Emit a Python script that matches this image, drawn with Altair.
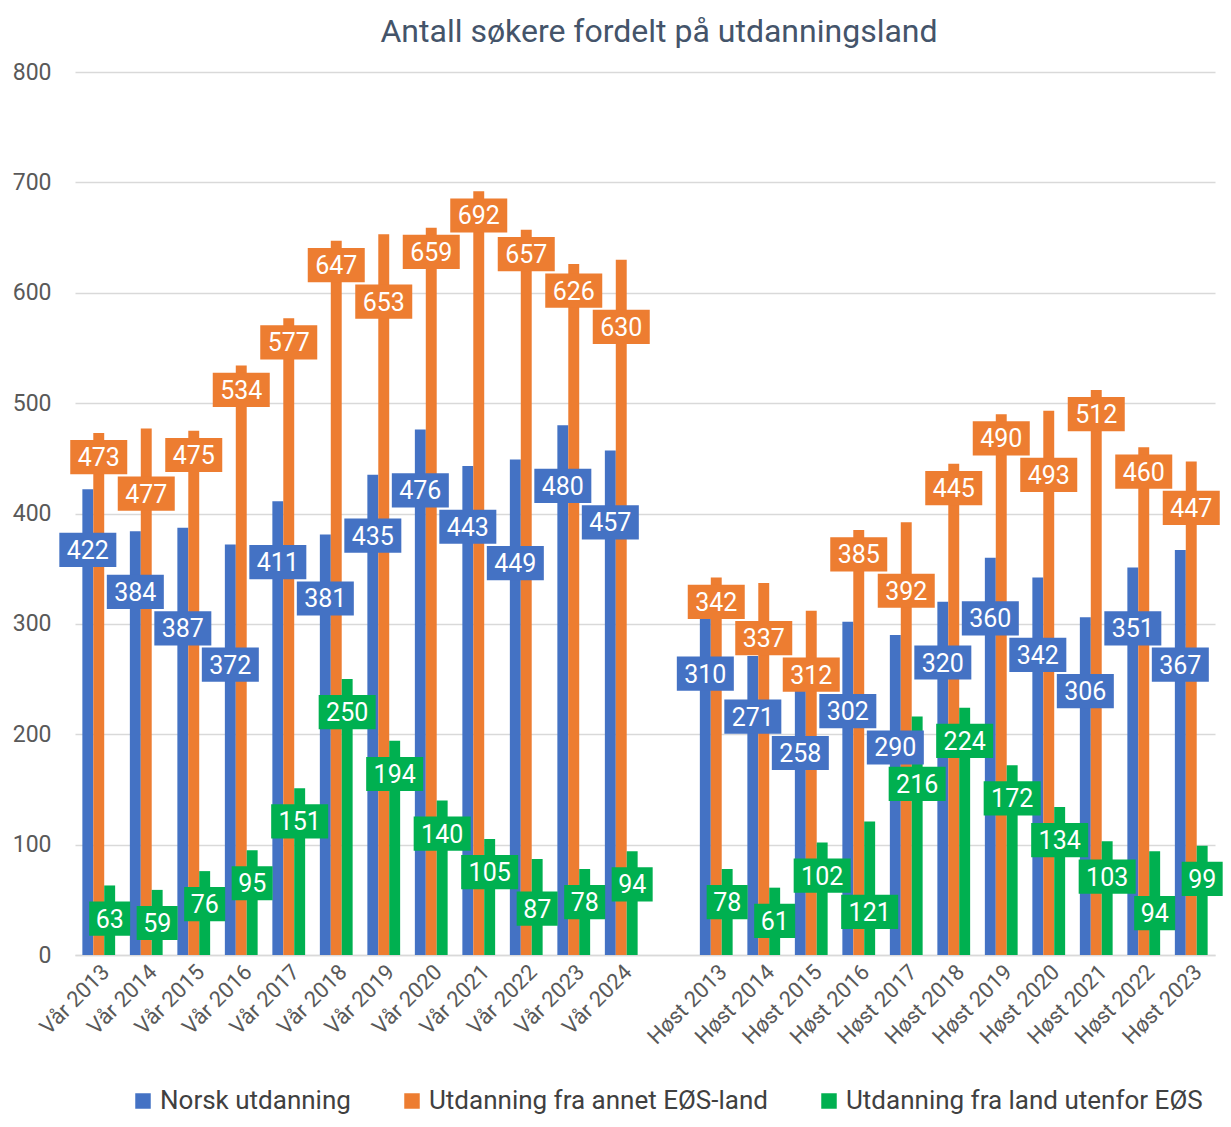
import altair as alt
import pandas as pd

title_text = "Antall søkere fordelt på utdanningsland"
series = ["Norsk utdanning", "Utdanning fra annet EØS-land", "Utdanning fra land utenfor EØS"]
colors = ["#4472C4", "#ED7D31", "#00B050"]

cats_var = ["Vår 2013", "Vår 2014", "Vår 2015", "Vår 2016", "Vår 2017", "Vår 2018",
            "Vår 2019", "Vår 2020", "Vår 2021", "Vår 2022", "Vår 2023", "Vår 2024"]
cats_host = ["Høst 2013", "Høst 2014", "Høst 2015", "Høst 2016", "Høst 2017", "Høst 2018",
             "Høst 2019", "Høst 2020", "Høst 2021", "Høst 2022", "Høst 2023"]

norsk_var = [422, 384, 387, 372, 411, 381, 435, 476, 443, 449, 480, 457]
eos_var = [473, 477, 475, 534, 577, 647, 653, 659, 692, 657, 626, 630]
utenfor_var = [63, 59, 76, 95, 151, 250, 194, 140, 105, 87, 78, 94]

norsk_host = [310, 271, 258, 302, 290, 320, 360, 342, 306, 351, 367]
eos_host = [342, 337, 312, 385, 392, 445, 490, 493, 512, 460, 447]
utenfor_host = [78, 61, 102, 121, 216, 224, 172, 134, 103, 94, 99]

GAP = " "
domain = cats_var + [GAP] + cats_host

# chart geometry used for label-collision avoidance
W, H = 1140, 883
STEP = W / len(domain)
PAD_IN = 0.31
SUB = STEP * (1 - PAD_IN) / 3
BOX_H = 31.0  # label box height in data units
W3, W2 = 57, 41
START_OFF = [55, 22, 30]  # preferred label depth below bar end, per series

rows = []
for cats, vals_list in [(cats_var, [norsk_var, eos_var, utenfor_var]),
                        (cats_host, [norsk_host, eos_host, utenfor_host])]:
    for s_i, (s, vals) in enumerate(zip(series, vals_list)):
        for c, v in zip(cats, vals):
            slot = domain.index(c)
            rows.append({"cat": c, "series": s, "value": v, "slot": slot, "s_i": s_i,
                         "digits": len(str(v))})

# greedy placement of data labels: start inside the bar end,
# push down while overlapping an already placed label
rows.sort(key=lambda r: (r["slot"], r["s_i"]))
placed = []
for r in rows:
    px = r["slot"] * STEP + STEP / 2 + (r["s_i"] - 1) * SUB
    w = W3 if r["digits"] >= 3 else W2
    lab = r["value"] - START_OFF[r["s_i"]]
    moved = True
    while moved:
        moved = False
        for (qx, qw, ql) in placed:
            if abs(px - qx) < (w + qw) / 2 and abs(lab - ql) < BOX_H + 2:
                lab = ql - (BOX_H + 2)
                moved = True
    lab = max(lab, 17)
    placed.append((px, w, lab))
    r["lab"] = lab
    r["lo"] = lab - BOX_H / 2
    r["hi"] = lab + BOX_H / 2

df = pd.DataFrame(rows)

x_enc = alt.X("cat:N", scale=alt.Scale(domain=domain, paddingInner=PAD_IN, paddingOuter=PAD_IN / 2),
              axis=alt.Axis(title=None, labelAngle=-45, labelFontSize=22, labelColor="#595959",
                            ticks=False, domainColor="#D9D9D9", domainWidth=1.5,
                            labelPadding=6, grid=False))
xoff = alt.XOffset("series:N", scale=alt.Scale(domain=series, paddingInner=0, paddingOuter=0))
color = alt.Color("series:N", scale=alt.Scale(domain=series, range=colors),
                  legend=alt.Legend(title=None, orient="none", direction="horizontal",
                                    legendX=55, legendY=1016, labelFontSize=26,
                                    labelColor="#404040", symbolType="square", symbolSize=240,
                                    symbolStrokeWidth=0, labelLimit=600, columnPadding=48,
                                    labelOffset=4, padding=0))

y_scale = alt.Scale(domain=[0, 800], nice=False)

bars = alt.Chart(df).mark_bar().encode(
    x=x_enc, xOffset=xoff,
    y=alt.Y("value:Q", scale=y_scale,
            axis=alt.Axis(title=None, values=list(range(0, 801, 100)), labelFontSize=23,
                          labelColor="#595959", ticks=False, domain=False, gridColor="#D9D9D9",
                          gridWidth=1.3, labelPadding=24)),
    color=color,
)

box_color = alt.Color("series:N", scale=alt.Scale(domain=series, range=colors), legend=None)

box3 = alt.Chart(df).transform_filter("datum.digits >= 3").mark_bar(width=W3).encode(
    x="cat:N", xOffset="series:N", y=alt.Y("lo:Q", scale=y_scale), y2="hi:Q", color=box_color)
box2 = alt.Chart(df).transform_filter("datum.digits < 3").mark_bar(width=W2).encode(
    x="cat:N", xOffset="series:N", y=alt.Y("lo:Q", scale=y_scale), y2="hi:Q", color=box_color)

texts = alt.Chart(df).mark_text(color="white", fontSize=25, font="Roboto",
                                baseline="middle", dy=1).encode(
    x="cat:N", xOffset="series:N", y=alt.Y("lab:Q", scale=y_scale), text="value:Q")

chart = alt.layer(bars, box3, box2, texts).properties(
    width=W, height=H,
    title=alt.Title(title_text, fontSize=32, color="#44546A", font="Roboto",
                    fontWeight="normal", anchor="middle", offset=12, dx=14),
    padding={"left": 4, "top": 8, "right": 0, "bottom": 0},
).configure(font="Roboto").configure_view(strokeWidth=0, stroke="transparent")

chart.save("out.html", embed_options={"renderer": "svg", "actions": False})
